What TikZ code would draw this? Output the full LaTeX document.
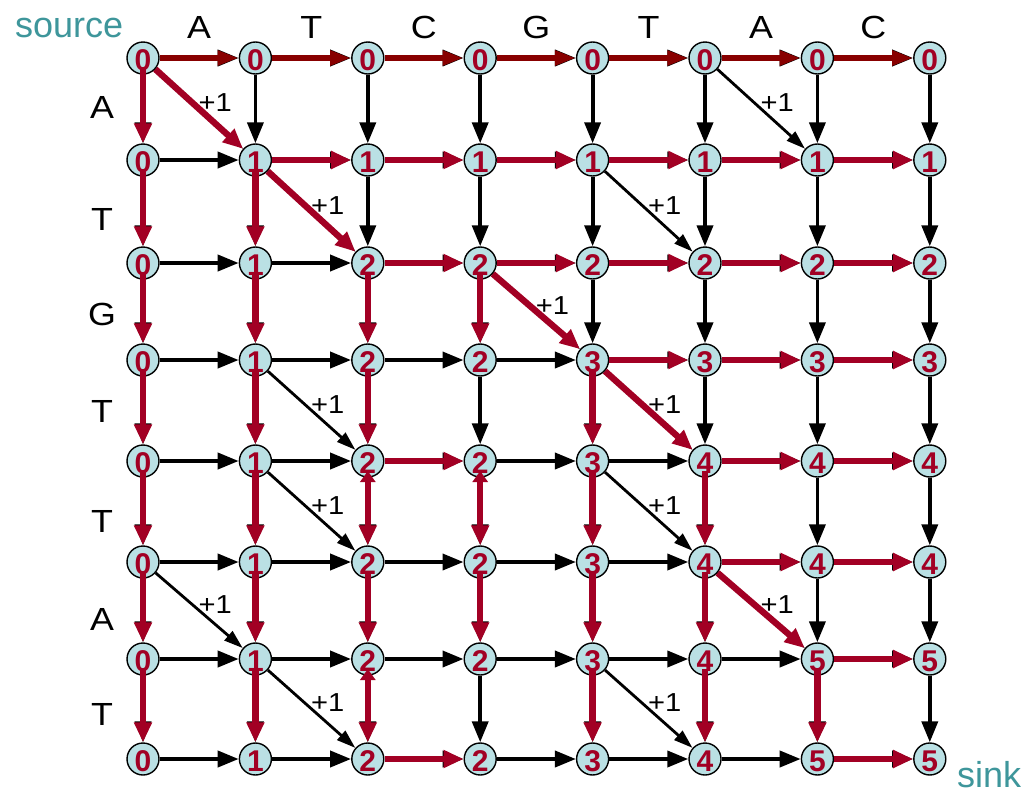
\documentclass[tikz,border=0pt]{standalone}
\usepackage{fontspec}
\setmainfont{Liberation Sans}
\newfontfamily\widesans[FakeStretch=1.12]{Liberation Sans}
\usetikzlibrary{arrows.meta,calc}

\definecolor{cellfill}{RGB}{186,224,228}
\definecolor{pathred}{RGB}{162,0,36}
\definecolor{toprowred}{RGB}{136,0,0}
\definecolor{endteal}{RGB}{62,150,155}

\begin{document}
\begin{tikzpicture}[x=1pt,y=-1pt,
  cell/.style={circle,draw=black,line width=1.4pt,fill=cellfill,minimum size=32pt,inner sep=0pt},
  score/.style={text=pathred,font=\fontsize{30}{30}\selectfont\bfseries,inner sep=0pt},
  seq/.style={font=\widesans\fontsize{32}{32}\selectfont,anchor=base,inner sep=0pt},
  endlabel/.style={font=\fontsize{36}{36}\selectfont,text=endteal,anchor=base west,inner sep=0pt},
  gain/.style={font=\widesans\fontsize{26}{26}\selectfont,inner sep=0pt},
  blk/.style={draw=black,line width=3.8pt,-{Triangle[length=21pt,width=16pt]}},
  diagblk/.style={draw=black,line width=2.8pt,-{Triangle[length=19pt,width=12pt]}},
  hl/.style={draw=pathred,line width=6.4pt,-{Triangle[length=20pt,width=17pt]},color=pathred},
  hlboth/.style={draw=pathred,line width=6.4pt,{Triangle[length=11pt,width=15pt]}-{Triangle[length=20pt,width=17pt]},color=pathred},
  hltop/.style={draw=toprowred,line width=5.2pt,-{Triangle[length=21pt,width=14pt]},color=toprowred}
]
\fill[white] (0,0) rectangle (1029,793);
\useasboundingbox (0,0) rectangle (1029,793);

% grid of cells
\foreach \i in {0,...,7}{
  \pgfmathsetmacro{\yy}{{58,160,263,360,461,562,659,759}[\i]}
  \foreach \j in {0,...,7}{
    \node[cell] (n-\i-\j) at ({143+112.4*\j},\yy) {};
  }
}

% sequence letters
\foreach \s [count=\k from 0] in {A,T,C,G,T,A,C}{
  \node[seq] (top-\k) at ({199+112.4*\k},38) {\s};
}
\foreach \s/\yb [count=\k from 0] in {A/118,T/230,G/325,T/422,T/532,A/630,T/725}{
  \node[seq] (left-\k) at (102,\yb) {\s};
}
\node[endlabel] (source) at (15,37) {source};
\node[endlabel] (sink) at (957,787) {sink};

% black edges: horizontal and vertical
\foreach \i in {0,...,7}{
  \foreach \j [evaluate=\j as \k using int(\j+1)] in {0,...,6}{
    \draw[blk] (n-\i-\j) -- (n-\i-\k);
    \draw[blk] (n-\j-\i) -- (n-\k-\i);
  }
}

% black diagonal (match) edges with their gains
\foreach \a/\b [count=\c] in {0-0/1-1,0-5/1-6,1-1/2-2,1-4/2-5,2-3/3-4,3-1/4-2,3-4/4-5,
                               4-1/5-2,4-4/5-5,5-0/6-1,5-5/6-6,6-1/7-2,6-4/7-5}{
  \draw[diagblk] (n-\a) -- (n-\b);
  \path (n-\a) -- (n-\b) node[gain,midway,xshift=16pt,yshift=6pt] (g-\c) {+1};
}

% highlighted edges
\foreach \j [evaluate=\j as \k using int(\j+1)] in {0,...,6}{
  \draw[hltop] (n-0-\j) -- (n-0-\k);
}
\foreach \a/\b in {1-1/1-2,1-2/1-3,1-3/1-4,1-4/1-5,1-5/1-6,1-6/1-7,
                   2-2/2-3,2-3/2-4,2-4/2-5,2-5/2-6,2-6/2-7,
                   3-4/3-5,3-5/3-6,3-6/3-7,
                   4-2/4-3,4-5/4-6,4-6/4-7,
                   5-5/5-6,5-6/5-7,
                   6-6/6-7,
                   7-2/7-3,7-6/7-7,
                   0-0/1-1,1-1/2-2,2-3/3-4,3-4/4-5,5-5/6-6}{
  \draw[hl] (n-\a) -- (n-\b);
}
\foreach \a/\b in {0-0/1-0,1-0/2-0,2-0/3-0,3-0/4-0,4-0/5-0,5-0/6-0,6-0/7-0,
                   1-1/2-1,2-1/3-1,3-1/4-1,4-1/5-1,5-1/6-1,6-1/7-1,
                   2-2/3-2,3-2/4-2,5-2/6-2,
                   2-3/3-3,5-3/6-3,
                   3-4/4-4,4-4/5-4,5-4/6-4,6-4/7-4,
                   4-5/5-5,5-5/6-5,6-5/7-5,
                   6-6/7-6}{
  \draw[hl] ($(n-\a.center)+(0,10)$) -- (n-\b.north);
}
\foreach \a/\b in {4-2/5-2,4-3/5-3,6-2/7-2}{
  \draw[hlboth] ($(n-\a.center)+(0,10)$) -- (n-\b.north);
}

% scores
\foreach \i/\row in {0/{0,0,0,0,0,0,0,0},1/{0,1,1,1,1,1,1,1},2/{0,1,2,2,2,2,2,2},
                     3/{0,1,2,2,3,3,3,3},4/{0,1,2,2,3,4,4,4},5/{0,1,2,2,3,4,4,4},
                     6/{0,1,2,2,3,4,5,5},7/{0,1,2,2,3,4,5,5}}{
  \foreach \s [count=\j from 0] in \row{
    \node[score] (d-\i-\j) at ($(n-\i-\j.center)+(0,2.5)$) {\s};
  }
}
\end{tikzpicture}
\end{document}
